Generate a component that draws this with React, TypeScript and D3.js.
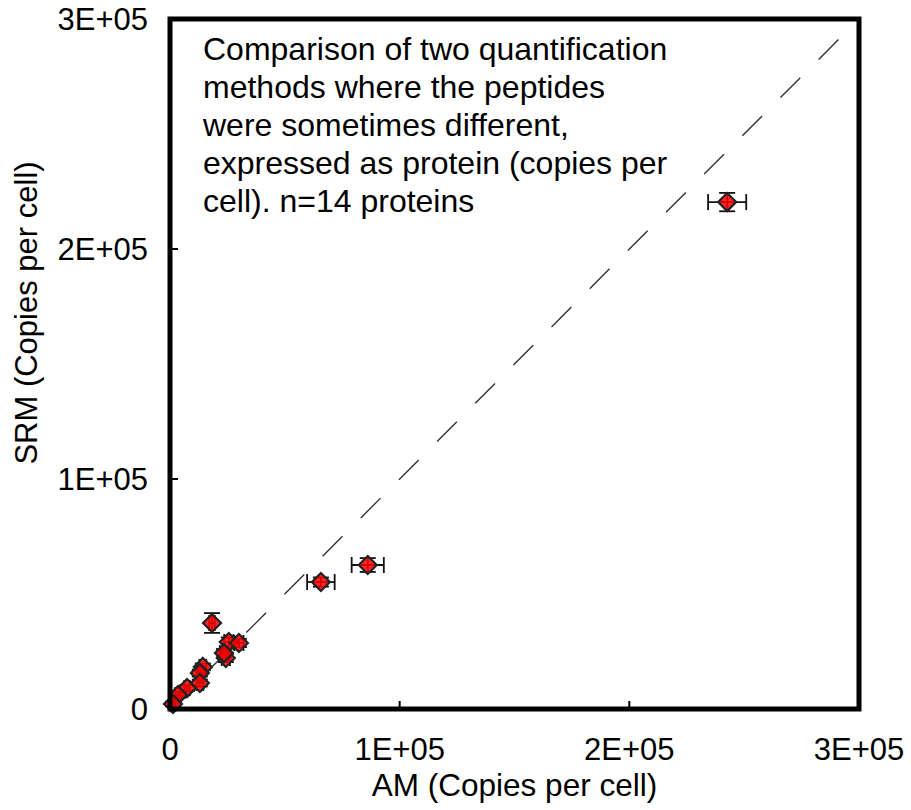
import React from "react";
import * as d3 from "d3";

const amValues = [242600, 86100, 65700, 18300, 25600, 30000, 24300, 23500, 14300, 13000, 13000, 7400, 3500, 1300];
const srmValues = [220400, 62600, 55200, 37400, 29100, 28700, 22200, 24300, 18300, 15600, 11300, 9100, 6100, 2200];
const amErrors = [8300, 7000, 6000, 1200, 2000, 2000, 1800, 1800, 1500, 1500, 1500, 1200, 1200, 1000];
const srmErrors = [4000, 3000, 2000, 4300, 2000, 1800, 1800, 1800, 1500, 1500, 1500, 1200, 1200, 1000];
const tickValues = [0, 100000, 200000, 300000];
const tickLabels = ["0", "1E+05", "2E+05", "3E+05"];
const annotationLines = [
  "Comparison of two quantification",
  "methods where the peptides",
  "were sometimes different,",
  "expressed as protein (copies per",
  "cell). n=14 proteins",
];
const xTitle = "AM (Copies per cell)";
const yTitle = "SRM (Copies per cell)";

const W = 911;
const H = 810;
const L = 170, R = 859, T = 19, B = 709;
const FONT = "'Liberation Sans', Arial, Helvetica, sans-serif";

export default function App() {
  const x = d3.scaleLinear().domain([0, 300000]).range([L, R]);
  const y = d3.scaleLinear().domain([0, 300000]).range([B, T]);
  const cap = 8;
  const dr = 9;
  const pts = amValues.map((v, i) => ({ x: v, y: srmValues[i], xe: amErrors[i], ye: srmErrors[i] }));
  return (
    <svg width={W} height={H} style={{ position: "absolute", left: 0, top: 0 }} fontFamily={FONT}>
      <rect x={0} y={0} width={W} height={H} fill="#fff" />
      {/* identity line */}
      <line x1={x(0)} y1={y(0)} x2={x(300000)} y2={y(300000)} stroke="#333" strokeWidth={1.4} strokeDasharray="28 26" />
      {/* error bars */}
      {pts.map((p, i) => {
        const cx = x(p.x), cy = y(p.y);
        const x0 = x(p.x - p.xe), x1 = x(p.x + p.xe);
        const y0 = y(p.y - p.ye), y1 = y(p.y + p.ye);
        return (
          <g key={"e" + i} stroke="#111" strokeWidth={1.8}>
            <line x1={x0} x2={x1} y1={cy} y2={cy} />
            <line x1={x0} x2={x0} y1={cy - cap} y2={cy + cap} />
            <line x1={x1} x2={x1} y1={cy - cap} y2={cy + cap} />
            <line x1={cx} x2={cx} y1={y0} y2={y1} />
            <line x1={cx - cap} x2={cx + cap} y1={y0} y2={y0} />
            <line x1={cx - cap} x2={cx + cap} y1={y1} y2={y1} />
          </g>
        );
      })}
      {/* markers */}
      {pts.map((p, i) => {
        const cx = x(p.x), cy = y(p.y);
        return (
          <path
            key={"m" + i}
            d={`M${cx},${cy - dr}L${cx + dr},${cy}L${cx},${cy + dr}L${cx - dr},${cy}Z`}
            fill="#ff0000"
            fillOpacity={0.85}
            stroke="#222"
            strokeWidth={2.2}
          />
        );
      })}
      {/* ticks */}
      {tickValues.slice(1, 3).map((t) => (
        <g key={"t" + t} stroke="#000" strokeWidth={2}>
          <line x1={x(t)} x2={x(t)} y1={B} y2={B - 8} />
          <line x1={L} x2={L + 8} y1={y(t)} y2={y(t)} />
        </g>
      ))}
      {/* frame */}
      <rect x={L} y={T} width={R - L} height={B - T} fill="none" stroke="#000" strokeWidth={5} />
      {/* tick labels */}
      {tickValues.map((t, i) => (
        <text key={"xl" + t} x={x(t)} y={760} textAnchor="middle" fontSize={31} fill="#000">
          {tickLabels[i]}
        </text>
      ))}
      {tickValues.map((t, i) => (
        <text key={"yl" + t} x={148} y={y(t)} dy="0.36em" textAnchor="end" fontSize={31} fill="#000">
          {tickLabels[i]}
        </text>
      ))}
      <text x={(L + R) / 2} y={796} textAnchor="middle" fontSize={31.5} fill="#000">
        {xTitle}
      </text>
      <text transform={`translate(37,313) rotate(-90)`} textAnchor="middle" fontSize={31} fill="#000">
        {yTitle}
      </text>
      {annotationLines.map((s, i) => (
        <text key={"a" + i} x={203} y={60 + i * 38} fontSize={32} fill="#000">
          {s}
        </text>
      ))}
    </svg>
  );
}
